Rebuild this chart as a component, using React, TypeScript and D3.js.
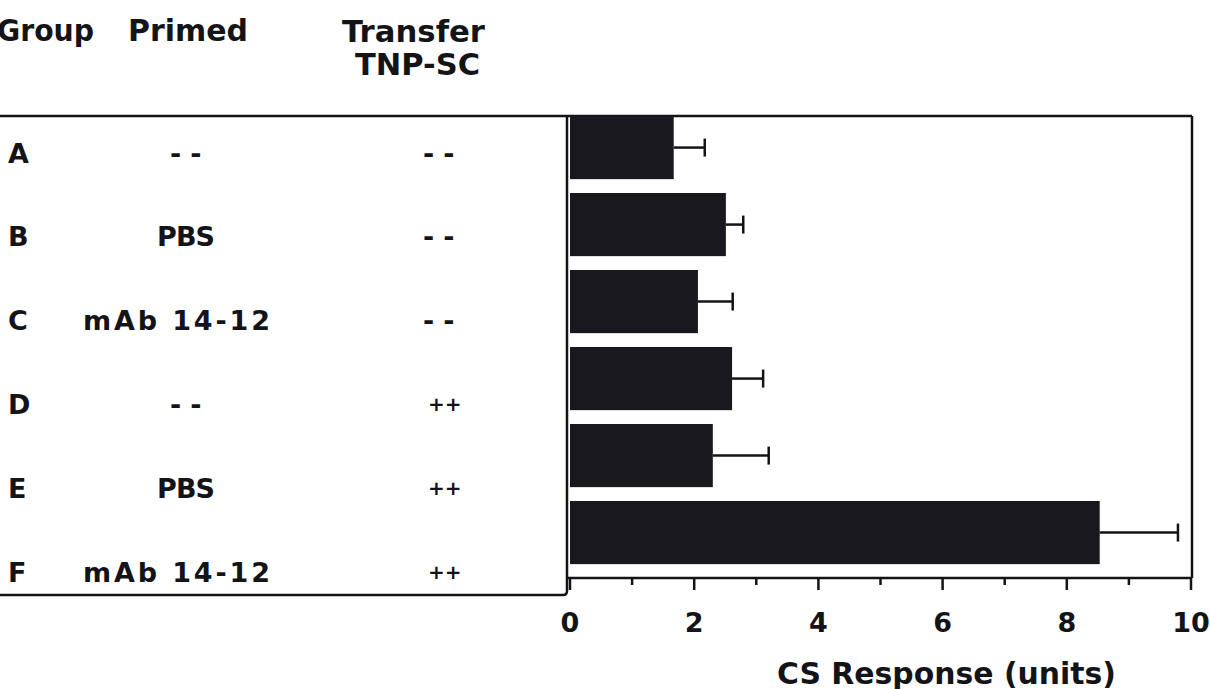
import React, { useEffect, useRef } from "react";
import * as d3 from "d3";

const groups = ["A", "B", "C", "D", "E", "F"];
const primed = ["--", "PBS", "mAb 14-12", "--", "PBS", "mAb 14-12"];
const transfer = ["--", "--", "--", "++", "++", "++"];
const responses = [1.67, 2.51, 2.06, 2.61, 2.3, 8.53];
const errors = [0.5, 0.28, 0.56, 0.5, 0.9, 1.26];
const xTicks = [0, 2, 4, 6, 8, 10];

const W = 1210;
const H = 689;
const INK = "#141418";
const FONT = "'DejaVu Sans', sans-serif";

// where each table text starts, and how wide it is
const primedLeft: Record<string, number> = { "--": 170, PBS: 157, "mAb 14-12": 83 };
const primedWidth: Record<string, number> = { PBS: 58, "mAb 14-12": 187 };

export default function App() {
  const ref = useRef<SVGSVGElement | null>(null);

  useEffect(() => {
    const svg = d3.select(ref.current).attr("width", W).attr("height", H);
    svg.selectAll("*").remove();

    const top = 116;
    const axisY = 578;
    const leftX = 567;
    const rightX = 1192;
    const tableBottom = 595;

    const x = d3.scaleLinear().domain([0, 10]).range([570, 1191]);
    const y = d3
      .scaleBand<string>()
      .domain(groups)
      .range([top, axisY])
      .paddingInner(0.18)
      .paddingOuter(0.09)
      .align(0);
    const rowY = d3.scalePoint<string>().domain(groups).range([153, 572]);

    svg.append("rect").attr("width", W).attr("height", H).attr("fill", "#ffffff");

    const txt = (g: any) =>
      g.attr("font-family", FONT).attr("font-weight", "bold").attr("fill", INK);

    // headers
    const head = svg.append("g").call(txt).attr("font-size", 30);
    const header = (s: string, x0: number, y0: number, len: number) =>
      head
        .append("text")
        .attr("x", x0)
        .attr("y", y0)
        .attr("textLength", len)
        .attr("lengthAdjust", "spacingAndGlyphs")
        .text(s);
    header("Group", -3, 41, 97);
    header("Primed", 128, 41, 120);
    header("Transfer", 342, 42, 143);
    header("TNP-SC", 355, 75, 125);

    // frame lines
    const frame = svg
      .append("g")
      .attr("fill", "none")
      .attr("stroke", INK)
      .attr("stroke-width", 2.5);
    frame.append("line").attr("x1", 0).attr("x2", rightX).attr("y1", top).attr("y2", top);
    frame
      .append("path")
      .attr("d", `M0,${tableBottom}H${leftX - 4}Q${leftX},${tableBottom} ${leftX},${tableBottom - 4}V${top}`);
    frame.append("line").attr("x1", rightX).attr("x2", rightX).attr("y1", top).attr("y2", axisY);

    // table rows
    const rows = svg.append("g").call(txt).attr("dominant-baseline", "central");
    rows
      .selectAll(".grp")
      .data(groups)
      .join("text")
      .attr("x", 8)
      .attr("y", (d) => rowY(d)!)
      .attr("font-size", 27)
      .text((d) => d);
    rows
      .selectAll(".pr")
      .data(groups)
      .join("text")
      .attr("x", (_, i) => primedLeft[primed[i]])
      .attr("y", (d) => rowY(d)!)
      .attr("font-size", 27)
      .attr("letter-spacing", (_, i) => (primed[i] === "--" ? 9 : 0))
      .each(function (_, i) {
        const w = primedWidth[primed[i]];
        if (w) d3.select(this).attr("textLength", w).attr("lengthAdjust", "spacing");
      })
      .text((_, i) => primed[i]);
    rows
      .selectAll(".tr")
      .data(groups)
      .join("text")
      .attr("x", (_, i) => (transfer[i] === "--" ? 423 : 428))
      .attr("y", (d) => rowY(d)!)
      .attr("font-size", (_, i) => (transfer[i] === "--" ? 27 : 20))
      .attr("letter-spacing", (_, i) => (transfer[i] === "--" ? 9 : 0))
      .text((_, i) => transfer[i]);

    // bars
    svg
      .append("g")
      .selectAll("rect")
      .data(groups)
      .join("rect")
      .attr("x", x(0))
      .attr("y", (d) => y(d)!)
      .attr("width", (_, i) => x(responses[i]) - x(0))
      .attr("height", y.bandwidth())
      .attr("fill", "#18181e");

    // error bars
    const eb = svg
      .append("g")
      .attr("stroke", INK)
      .attr("stroke-width", 2.5)
      .attr("fill", "none");
    groups.forEach((g, i) => {
      const cy = y(g)! + y.bandwidth() / 2;
      const x1 = x(responses[i]);
      const x2 = x(responses[i] + errors[i]);
      eb.append("line").attr("x1", x1).attr("x2", x2).attr("y1", cy).attr("y2", cy);
      eb.append("line").attr("x1", x2).attr("x2", x2).attr("y1", cy - 9).attr("y2", cy + 9);
    });

    // x axis
    const ax = svg.append("g").attr("stroke", INK).attr("stroke-width", 2.5);
    ax.append("line").attr("x1", leftX).attr("x2", rightX).attr("y1", axisY).attr("y2", axisY);
    ax
      .selectAll(".tick")
      .data(d3.range(0, 11))
      .join("line")
      .attr("x1", (d) => x(d))
      .attr("x2", (d) => x(d))
      .attr("y1", axisY)
      .attr("y2", (d) => axisY + (d % 2 === 0 ? 12 : 7));

    svg
      .append("g")
      .call(txt)
      .attr("font-size", 27)
      .attr("text-anchor", "middle")
      .selectAll("text")
      .data(xTicks)
      .join("text")
      .attr("x", (d) => x(d))
      .attr("y", 632)
      .text((d) => d);

    svg
      .append("text")
      .call(txt)
      .attr("x", 777)
      .attr("y", 684)
      .attr("font-size", 30)
      .attr("textLength", 339)
      .attr("lengthAdjust", "spacingAndGlyphs")
      .text("CS Response (units)");
  }, []);

  return <svg ref={ref} style={{ position: "absolute", left: 0, top: 0 }} />;
}
